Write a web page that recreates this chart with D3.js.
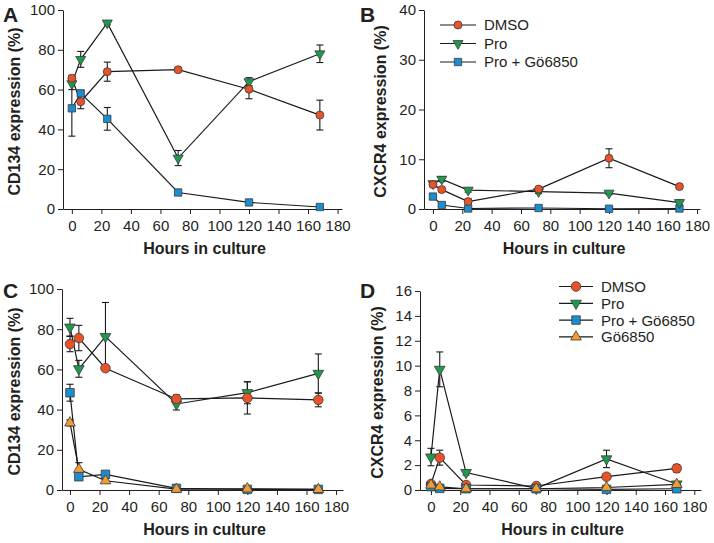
<!DOCTYPE html>
<head>
<meta charset="utf-8">
<title>CD134 / CXCR4 expression</title>
<script type="text/javascript" src="https://d3js.org/d3.v7.min.js"></script>
<style>
    body { margin: 0; background: #fff; }
    text { font-family: Arial, "Liberation Sans", sans-serif; fill: #231f20; }
</style>
</head>
<body>
<div id="my_dataviz"></div>
<script>

    // ---- data ----
    var hours = [0, 6, 24, 72, 120, 168];
    var namesAB = ["DMSO", "Pro", "Pro + Gö6850"];
    var namesCD = ["DMSO", "Pro", "Pro + Gö6850", "Gö6850"];
    var xTicks = [0, 20, 40, 60, 80, 100, 120, 140, 160, 180];
    var yTicksA = [0, 20, 40, 60, 80, 100];
    var yTicksB = [0, 10, 20, 30, 40];
    var yTicksC = [0, 20, 40, 60, 80, 100];
    var yTicksD = [0, 2, 4, 6, 8, 10, 12, 14, 16];

    // panel A: CD134
    var aDmso    = [65.7, 53.9, 69, 70, 60.2, 47.2];
    var aDmsoErr = [1.5, 3.5, 4.8, 1, 4.8, 7.5];
    var aPro     = [63, 75.2, 93.5, 25.6, 64, 78];
    var aProErr  = [3, 4, 1, 3.8, 2, 4.4];
    var aGo      = [50.6, 58.1, 45.3, 8.3, 3.3, 1];
    var aGoErr   = [14, 1.5, 5.7, 1.5, 0.8, 0.5];

    // panel B: CXCR4
    var bDmso    = [4.9, 3.9, 1.5, 4.0, 10.2, 4.5];
    var bDmsoErr = [0.4, 0.4, 0.5, 0.3, 1.9, 0.4];
    var bPro     = [5.1, 6.0, 3.8, 3.5, 3.2, 1.3];
    var bProErr  = [0.4, 0.5, 0.4, 0.4, 0.3, 0.5];
    var bGo      = [2.5, 0.8, 0.1, 0.2, 0.05, 0.1];
    var bGoErr   = [0.3, 0.2, 0.1, 0.1, 0.1, 0.1];

    // panel C: CD134
    var cDmso      = [72.6, 75.6, 60.6, 45.3, 45.8, 44.8];
    var cDmsoErr   = [3.8, 6.3, 1, 2, 8, 3.4];
    var cPro       = [81, 60.3, 76.3, 42.8, 48.4, 58];
    var cProErr    = [4.4, 4.2, 17, 3, 5.5, 9.7];
    var cProGo     = [48.4, 6.6, 7.8, 0.8, 0.3, 0.3];
    var cProGoErr  = [4.2, 1.5, 1, 0.5, 0.3, 0.3];
    var cGo        = [33.4, 10.3, 4.6, 0.4, 0.6, 0.3];
    var cGoErr     = [1.5, 3.3, 1, 0.3, 0.3, 0.3];

    // panel D: CXCR4
    var dDmso      = [0.48, 2.6, 0.4, 0.32, 1.07, 1.74];
    var dDmsoErr   = [0.2, 0.6, 0.15, 0.1, 0.2, 0.3];
    var dPro       = [2.65, 9.7, 1.4, 0.13, 2.5, 0.48];
    var dProErr    = [0.7, 1.4, 0.2, 0.1, 0.7, 0.1];
    var dProGo     = [0.27, 0.13, 0.1, 0.1, 0.05, 0.1];
    var dProGoErr  = [0.1, 0.05, 0.05, 0.05, 0.05, 0.05];
    var dGo        = [0.4, 0.25, 0.1, 0.1, 0.2, 0.45];
    var dGoErr     = [0.1, 0.05, 0.05, 0.05, 0.05, 0.1];

    // marker style per treatment
    var styles = {
        "DMSO":         { fill: "#ea5229", shape: "circle" },
        "Pro":          { fill: "#1f9a4d", shape: "down" },
        "Pro + Gö6850": { fill: "#1c8dce", shape: "square" },
        "Gö6850":       { fill: "#f39c35", shape: "up" }
    };

    var svg = d3.select("#my_dataviz")
      .append("svg")
        .attr("width", 714)
        .attr("height", 543);

    function markerPath(shape, big) {
        var s;
        if (shape == "circle") s = d3.symbol(d3.symbolCircle, big ? 72 : 50);
        else if (shape == "square") s = d3.symbol(d3.symbolSquare, big ? 72 : 54);
        else s = d3.symbol(d3.symbolTriangle, big ? 50 : 44);
        return s();
    }

    function drawMarker(g, shape, x, y, big) {
        g.append("path")
            .attr("d", markerPath(shape, big))
            .attr("transform", "translate(" + x + "," + y + ")" + (shape == "down" ? " rotate(180)" : ""))
            .attr("fill", styles[shapeName(shape)].fill)
            .attr("stroke", "#3a3a3a")
            .attr("stroke-width", 0.8);
    }

    function shapeName(shape) {
        for (var k in styles) if (styles[k].shape == shape) return k;
    }

    function drawPanel(p) {
        var g = svg.append("g");

        var x = d3.scaleLinear().domain(p.xDomain).range(p.xRange);
        var y = d3.scaleLinear().domain([0, p.yMax]).range([p.yBottom, p.yTop]);

        var xAxis = g.append("g")
            .attr("transform", "translate(0," + p.yBottom + ")")
            .call(d3.axisBottom(x).tickValues(xTicks).tickSize(5).tickSizeOuter(0).tickPadding(6));
        var yAxis = g.append("g")
            .attr("transform", "translate(" + p.xRange[0] + ",0)")
            .call(d3.axisLeft(y).tickValues(p.yTicks).tickSize(5).tickSizeOuter(0).tickPadding(3));
        [xAxis, yAxis].forEach(function(a) {
            a.selectAll("path, line").attr("stroke", "#231f20").attr("stroke-width", 1);
            a.selectAll("text").style("font-size", "15px").attr("fill", "#231f20");
        });

        // titles
        g.append("text")
            .attr("x", (p.xRange[0] + p.xRange[1]) / 2 + 2)
            .attr("y", p.yBottom + 45)
            .attr("text-anchor", "middle")
            .style("font-size", "16px")
            .style("font-weight", "bold")
            .text("Hours in culture");
        g.append("text")
            .attr("transform", "translate(" + p.yTitleX + "," + ((p.yTop + p.yBottom) / 2 + 2) + ") rotate(-90)")
            .attr("text-anchor", "middle")
            .style("font-size", "16px")
            .style("font-weight", "bold")
            .text(p.yTitle);
        g.append("text")
            .attr("x", p.letterX)
            .attr("y", p.letterY)
            .style("font-size", "21px")
            .style("font-weight", "bold")
            .text(p.letter);

        var line = d3.line()
            .x(function(d, i) { return x(hours[i]); })
            .y(function(d) { return y(d); });

        // lines
        p.series.forEach(function(s) {
            g.append("path")
                .attr("d", line(s.values))
                .attr("fill", "none")
                .attr("stroke", "#1a1a1a")
                .attr("stroke-width", 1.2);
        });
        // error bars
        p.series.forEach(function(s) {
            s.values.forEach(function(v, i) {
                var cx = x(hours[i]), e = s.err[i];
                var y1 = y(v + e), y2 = y(Math.max(0, v - e));
                g.append("line").attr("x1", cx).attr("x2", cx).attr("y1", y1).attr("y2", y2)
                    .attr("stroke", "#1a1a1a").attr("stroke-width", 1.1);
                [y1, y2].forEach(function(yy) {
                    g.append("line").attr("x1", cx - 3.5).attr("x2", cx + 3.5).attr("y1", yy).attr("y2", yy)
                        .attr("stroke", "#1a1a1a").attr("stroke-width", 1.1);
                });
            });
        });
        // markers
        p.series.forEach(function(s) {
            s.values.forEach(function(v, i) {
                drawMarker(g, styles[s.name].shape, x(hours[i]), y(v), p.big);
            });
        });

        // legend
        if (p.legend) {
            p.legend.names.forEach(function(n, i) {
                var ly = p.legend.y + i * p.legend.step;
                g.append("line")
                    .attr("x1", p.legend.x1).attr("x2", p.legend.x2)
                    .attr("y1", ly).attr("y2", ly)
                    .attr("stroke", "#1a1a1a").attr("stroke-width", 1.2);
                drawMarker(g, styles[n].shape, (p.legend.x1 + p.legend.x2) / 2, ly, p.big);
                g.append("text")
                    .attr("x", p.legend.x2 + 8)
                    .attr("y", ly)
                    .attr("dy", "0.36em")
                    .style("font-size", "15px")
                    .text(n);
            });
        }
    }

    drawPanel({
        letter: "A", letterX: 3, letterY: 22,
        xDomain: [-6, 183], xRange: [63, 342],
        yMax: 100, yTop: 10, yBottom: 209, yTicks: yTicksA,
        yTitle: "CD134 expression (%)", yTitleX: 20, big: false,
        series: [
            { name: "Pro + Gö6850", values: aGo, err: aGoErr },
            { name: "Pro", values: aPro, err: aProErr },
            { name: "DMSO", values: aDmso, err: aDmsoErr }
        ]
    });

    drawPanel({
        letter: "B", letterX: 360, letterY: 22,
        xDomain: [-6.1, 182], xRange: [424, 700],
        yMax: 40, yTop: 10, yBottom: 209, yTicks: yTicksB,
        yTitle: "CXCR4 expression (%)", yTitleX: 386, big: false,
        series: [
            { name: "Pro + Gö6850", values: bGo, err: bGoErr },
            { name: "Pro", values: bPro, err: bProErr },
            { name: "DMSO", values: bDmso, err: bDmsoErr }
        ],
        legend: { names: namesAB, x1: 440, x2: 476, y: 25, step: 18.5 }
    });

    drawPanel({
        letter: "C", letterX: 3, letterY: 298,
        xDomain: [-5.4, 184.7], xRange: [62, 343],
        yMax: 100, yTop: 289, yBottom: 490, yTicks: yTicksC,
        yTitle: "CD134 expression (%)", yTitleX: 20, big: true,
        series: [
            { name: "Pro", values: cPro, err: cProErr },
            { name: "DMSO", values: cDmso, err: cDmsoErr },
            { name: "Pro + Gö6850", values: cProGo, err: cProGoErr },
            { name: "Gö6850", values: cGo, err: cGoErr }
        ]
    });

    drawPanel({
        letter: "D", letterX: 360, letterY: 298,
        xDomain: [-7.5, 184.6], xRange: [420, 701],
        yMax: 16, yTop: 291, yBottom: 490, yTicks: yTicksD,
        yTitle: "CXCR4 expression (%)", yTitleX: 383, big: true,
        series: [
            { name: "DMSO", values: dDmso, err: dDmsoErr },
            { name: "Pro", values: dPro, err: dProErr },
            { name: "Pro + Gö6850", values: dProGo, err: dProGoErr },
            { name: "Gö6850", values: dGo, err: dGoErr }
        ],
        legend: { names: namesCD, x1: 559, x2: 593, y: 286.5, step: 16.8 }
    });

</script>
</body>
